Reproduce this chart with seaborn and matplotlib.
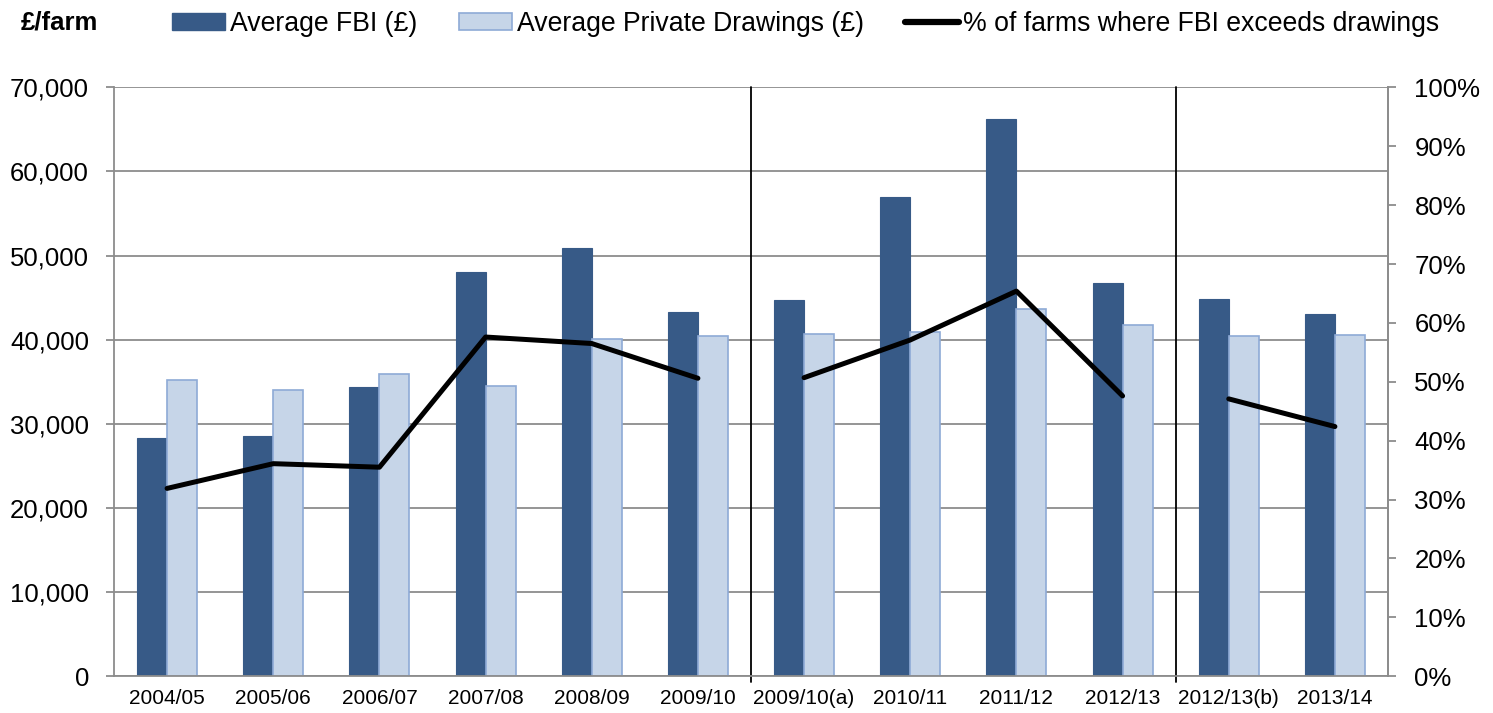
import numpy as np
import pandas as pd
import matplotlib
matplotlib.use("Agg")
import matplotlib.pyplot as plt
import seaborn as sns
from matplotlib.patches import Patch
from matplotlib.lines import Line2D
from matplotlib.ticker import FuncFormatter, MultipleLocator

# Data
years = ["2004/05", "2005/06", "2006/07", "2007/08", "2008/09", "2009/10",
         "2009/10(a)", "2010/11", "2011/12", "2012/13", "2012/13(b)", "2013/14"]
fbi = [28300, 28600, 34400, 48100, 50900, 43300,
       44700, 57000, 66200, 46700, 44800, 43100]
drawings = [35200, 34000, 35900, 34500, 40100, 40400,
            40700, 40900, 43600, 41700, 40400, 40600]
pct_exceeds = [0.319, 0.361, 0.355, 0.576, 0.565, 0.506,
               0.507, 0.571, 0.654, 0.476, 0.471, 0.424]
# series breaks (methodology changes)
segment = [0, 0, 0, 0, 0, 0, 1, 1, 1, 1, 2, 2]

FBI_LABEL = "Average FBI (£)"
DRAW_LABEL = "Average Private Drawings (£)"
PCT_LABEL = "% of farms where FBI exceeds drawings"

FBI_COLOR = "#375A87"
DRAW_COLOR = "#C6D5E8"
DRAW_EDGE = "#8EAAD6"
GRID_COLOR = "#8C8C8C"

bars = pd.DataFrame({
    "year": years * 2,
    "value": fbi + drawings,
    "series": [FBI_LABEL] * len(years) + [DRAW_LABEL] * len(years),
})
line_df = pd.DataFrame({
    "pos": np.arange(len(years)),
    "pct": pct_exceeds,
    "segment": segment,
})

sns.set_theme(style="white")
plt.rcParams["font.family"] = ["Liberation Sans", "DejaVu Sans"]
plt.rcParams["text.color"] = "black"
plt.rcParams["xtick.labelcolor"] = "black"
plt.rcParams["ytick.labelcolor"] = "black"

W, H = 1493, 713
fig = plt.figure(figsize=(W / 100, H / 100), dpi=100)
ax = fig.add_axes([114 / W, 1 - 676.3 / H, (1388 - 114) / W, (676.3 - 87.3) / H])

sns.barplot(data=bars, x="year", y="value", hue="series", order=years,
            hue_order=[FBI_LABEL, DRAW_LABEL], palette=[FBI_COLOR, DRAW_COLOR],
            saturation=1, width=0.565, gap=0, errorbar=None, legend=False, ax=ax)
for bar in ax.containers[0]:
    bar.set_edgecolor(FBI_COLOR)
    bar.set_linewidth(0.8)
for bar in ax.containers[1]:
    bar.set_edgecolor(DRAW_EDGE)
    bar.set_linewidth(1.2)

ax.set_xlim(-0.5, len(years) - 0.5)
ax.set_ylim(0, 70000)
ax.yaxis.set_major_locator(MultipleLocator(10000))
ax.yaxis.set_major_formatter(FuncFormatter(lambda v, _: f"{v:,.0f}"))
ax.grid(axis="y", color=GRID_COLOR, linewidth=1.3)
ax.set_axisbelow(True)
ax.set_xlabel("")
ax.set_ylabel("")

ax.set_xticks(np.arange(len(years)))
ax.set_xticklabels(years)
ax.set_xticks(np.arange(-0.5, len(years)), minor=True)
ax.tick_params(axis="x", which="major", length=0, pad=9, labelsize=15, labelcolor="black")
ax.tick_params(axis="x", which="minor", length=6, width=1.3, color=GRID_COLOR, direction="out")
ax.tick_params(axis="y", length=6, width=1.3, color=GRID_COLOR, direction="out",
               pad=12, labelsize=18.5, left=True, labelcolor="black")
for side in ["left", "bottom", "right"]:
    ax.spines[side].set_color(GRID_COLOR)
    ax.spines[side].set_linewidth(1.3)
ax.spines["top"].set_visible(False)

# vertical separators between series breaks
for xb in [5.5, 9.5]:
    ax.axvline(xb, ymin=-0.009, ymax=1, color="black", linewidth=1.3, clip_on=False)

ax2 = ax.twinx()
sns.lineplot(data=line_df, x="pos", y="pct", units="segment", estimator=None,
             color="black", linewidth=3.6, ax=ax2)
ax2.set_xlim(-0.5, len(years) - 0.5)
ax2.set_ylim(0, 1)
ax2.yaxis.set_major_locator(MultipleLocator(0.1))
ax2.yaxis.set_major_formatter(FuncFormatter(lambda v, _: f"{v:.0%}"))
ax2.set_xlabel("")
ax2.set_ylabel("")
ax2.grid(False)
ax2.tick_params(axis="y", length=6, width=1.3, color=GRID_COLOR, direction="out",
                pad=13, labelsize=18.5, right=True, labelcolor="black")
for side in ["top", "left", "bottom"]:
    ax2.spines[side].set_visible(False)
ax2.spines["right"].set_color(GRID_COLOR)
ax2.spines["right"].set_linewidth(1.3)

# legend and unit label
handles = [
    Patch(facecolor=FBI_COLOR, edgecolor=FBI_COLOR, label=FBI_LABEL),
    Patch(facecolor=DRAW_COLOR, edgecolor=DRAW_EDGE, linewidth=1.2, label=DRAW_LABEL),
    Line2D([0], [0], color="black", linewidth=4.5, label=PCT_LABEL),
]
fig.legend(handles=handles, loc="center left", bbox_to_anchor=(172 / W, 1 - 24 / H),
           ncol=3, frameon=False, fontsize=19.2, handlelength=2.0, handleheight=0.58,
           handletextpad=0.18, columnspacing=1.55, borderpad=0, borderaxespad=0,
           labelcolor="black")
fig.text(20.5 / W, 1 - 23 / H, "£/farm", fontsize=18.5, fontweight="bold",
         ha="left", va="center", color="black")

fig.savefig("out.png", dpi=100)
